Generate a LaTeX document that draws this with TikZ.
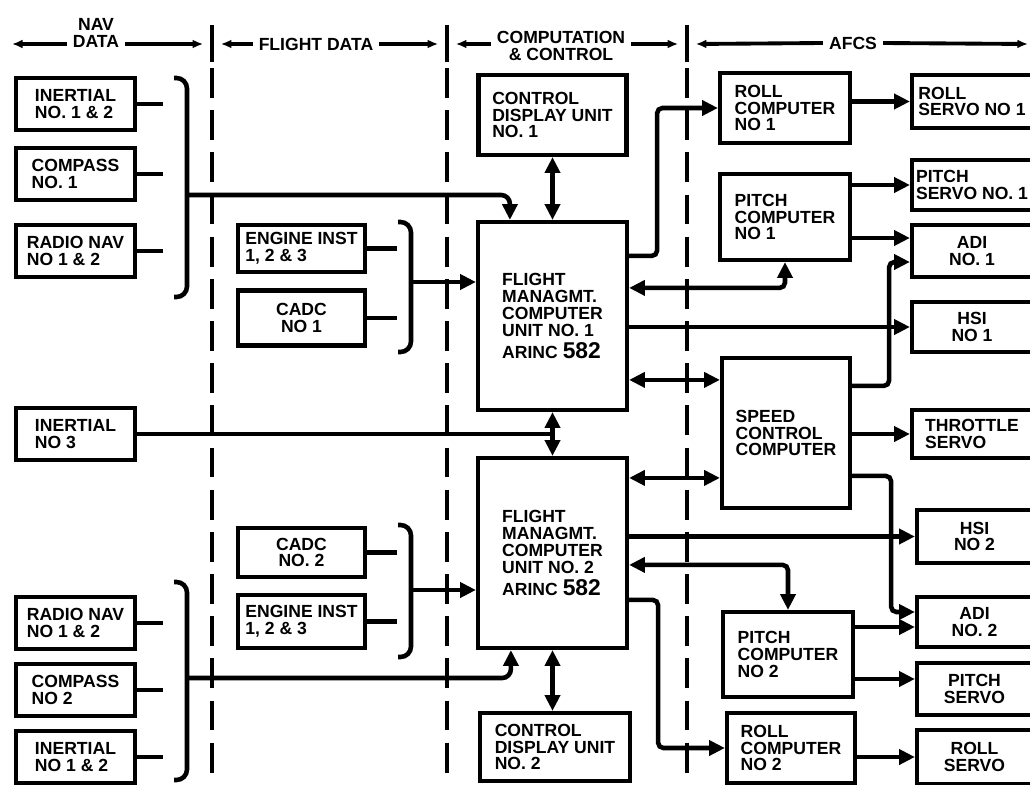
\documentclass[tikz,border=0pt]{standalone}
\usepackage{fontspec}
\setmainfont{Liberation Sans}
\usepackage{tikz}
\usetikzlibrary{arrows.meta,calc}

\begin{document}
\begin{tikzpicture}[
        x=0.02cm, y=-0.02cm,
        every node/.style={font=\fontsize{10}{9.6}\selectfont\bfseries, align=center},
        box/.style={draw, line width=2.4pt, minimum width=2.38cm, minimum height=1.04cm, inner sep=1pt},
        lbox/.style={box, align=left},
        wire/.style={line width=2.6pt},
        arr/.style={wire, -{Triangle[length=9pt,width=8.5pt]}},
        dbl/.style={wire, {Triangle[length=9pt,width=8.5pt]}-{Triangle[length=9pt,width=8.5pt]}},
        hdr/.style={line width=2.2pt, -{Latex[length=6pt,width=5pt]}},
        divider/.style={line width=2.2pt, dash pattern=on 17pt off 7pt},
        brace/.style={line width=2.6pt, rounded corners=6pt}
      ]
      \clip (0,0) rectangle (1030,784);
      \fill[white] (0,0) rectangle (1030,784);

      % column headings
      \node (hnav) at (96,33) {NAV\\DATA};
      \node (hfd) at (316,44) {FLIGHT DATA};
      \node (hcc) at (561,46) {COMPUTATION\\\& CONTROL};
      \node (hafcs) at (853,43) {AFCS};
      \coordinate (t1) at (212,44);
      \coordinate (t2) at (447,44);
      \coordinate (t3) at (687,44);
      \draw[hdr] (hnav.south west |- t1) -- (12,44);
      \draw[hdr] (hnav.south east |- t1) -- ([xshift=-5pt]t1);
      \draw[hdr] (hfd.west) -- ([xshift=5pt]t1);
      \draw[hdr] (hfd.east) -- ([xshift=-5pt]t2);
      \draw[hdr] (hcc.west |- t2) -- ([xshift=5pt]t2);
      \draw[hdr] (hcc.east |- t3) -- ([xshift=-5pt]t3);
      \draw[hdr] (hafcs.west) -- ([xshift=5pt]t3);
      \draw[hdr] (hafcs.east) -- (1028,44);
      \foreach \x in {212,447,687} {
        \draw[line width=2.2pt] (\x,25) -- (\x,62);
        \draw[divider] (\x,68) -- (\x,790);
      }

      % nav data
      \node[lbox] (in12a) at (75.5,104) {INERTIAL\\NO. 1 \& 2};
      \node[lbox] (cmp1) at (75.5,174) {COMPASS\\NO. 1};
      \node[lbox] (rnav1) at (75.5,251) {RADIO NAV\\NO 1 \& 2};
      \node[lbox] (in3) at (75.5,434) {INERTIAL\\NO 3};
      \node[lbox] (rnav2) at (75.5,623) {RADIO NAV\\NO 1 \& 2};
      \node[lbox] (cmp2) at (75.5,690) {COMPASS\\NO 2};
      \node[lbox] (in12b) at (75.5,757) {INERTIAL\\NO 1 \& 2};

      % flight data
      \node[lbox, minimum width=2.54cm, minimum height=0.94cm] (eng1) at (301.5,248.5) {ENGINE INST\\1, 2 \& 3};
      \node[box, minimum width=2.54cm, minimum height=1.1cm] (cadc1) at (301.5,318) {CADC\\NO 1};
      \node[box, minimum width=2.54cm, minimum height=0.98cm] (cadc2) at (301.5,552.5) {CADC\\NO. 2};
      \node[lbox, minimum width=2.54cm, minimum height=1.06cm] (eng2) at (301.5,621.5) {ENGINE INST\\1, 2 \& 3};

      % computation & control
      \node[lbox, minimum width=2.96cm, minimum height=1.6cm] (cdu1) at (552.5,115) {CONTROL\\DISPLAY UNIT\\NO. 1};
      \node[lbox, minimum width=2.98cm, minimum height=3.76cm] (fmc1) at (552.5,316)
        {FLIGHT\\MANAGMT.\\COMPUTER\\UNIT NO. 1\\[3pt]ARINC {\fontsize{13}{12}\selectfont 582}};
      \node[lbox, minimum width=2.98cm, minimum height=3.8cm] (fmc2) at (552.5,553)
        {FLIGHT\\MANAGMT.\\COMPUTER\\UNIT NO. 2\\[3pt]ARINC {\fontsize{13}{12}\selectfont 582}};
      \node[lbox, minimum width=3cm, minimum height=1.36cm] (cdu2) at (555,747) {CONTROL\\DISPLAY UNIT\\NO. 2};

      % afcs
      \node[lbox, minimum width=2.6cm, minimum height=1.4cm] (rc1) at (785,108) {ROLL\\COMPUTER\\NO 1};
      \node[lbox, minimum width=2.6cm, minimum height=1.72cm] (pc1) at (785,217) {PITCH\\COMPUTER\\NO 1};
      \node[lbox, minimum width=2.56cm, minimum height=3cm] (scc) at (786,433) {SPEED\\CONTROL\\COMPUTER};
      \node[lbox, minimum width=2.6cm, minimum height=1.7cm] (pc2) at (788,654.5) {PITCH\\COMPUTER\\NO 2};
      \node[lbox, minimum width=2.56cm, minimum height=1.4cm] (rc2) at (791,748) {ROLL\\COMPUTER\\NO 2};

      \node[lbox, minimum width=2.4cm, minimum height=1.06cm] (rs1) at (972,101.5) {ROLL\\SERVO NO 1};
      \node[lbox, minimum width=2.4cm, minimum height=1cm] (ps1) at (972,185) {PITCH\\SERVO NO. 1};
      \node[box, minimum width=2.4cm, minimum height=1.04cm] (adi1) at (972,251) {ADI\\NO. 1};
      \node[box, minimum width=2.4cm, minimum height=1cm] (hsi1) at (972,327) {HSI\\NO 1};
      \node[lbox, minimum width=2.4cm, minimum height=0.96cm] (thr) at (972,434) {THROTTLE\\SERVO};
      \node[box, minimum width=2.3cm, minimum height=1.06cm] (hsi2) at (974.5,536.5) {HSI\\NO 2};
      \node[box, minimum width=2.3cm, minimum height=1cm] (adi2) at (974.5,622) {ADI\\NO. 2};
      \node[box, minimum width=2.3cm, minimum height=1.04cm] (psv) at (974.5,689) {PITCH\\SERVO};
      \node[box, minimum width=2.3cm, minimum height=1.08cm] (rsv) at (974.5,757) {ROLL\\SERVO};

      % brackets
      \draw[brace] (174,78) -| (187,297) -- (174,297);
      \draw[brace] (398,222) -| (411,352) -- (398,352);
      \draw[brace] (398,525) -| (411,657) -- (398,657);
      \draw[brace] (174,582) -| (187,780) -- (174,780);
      \coordinate (b1) at (187,195);
      \coordinate (b2) at (411,282);
      \coordinate (b3) at (411,590);
      \coordinate (b4) at (187,678);
      \foreach \n/\e in {in12a/163, cmp1/163, rnav1/163, eng1/397, cadc1/397,
                         cadc2/397, eng2/397, rnav2/163, cmp2/163, in12b/163}
        \draw[wire] (\n.east) -- (\n.east -| \e,0);

      % inputs to the computers
      \draw[arr, rounded corners=5pt] (b1) -| ($(fmc1.north west)+(34,0)$);
      \draw[arr] (b2) -- (b2 -| fmc1.west);
      \draw[arr] (b3) -- (b3 -| fmc2.west);
      \draw[arr, rounded corners=5pt] (b4) -| ($(fmc2.south west)+(35,0)$);
      \coordinate (j3) at (fmc1.south |- in3.east);
      \draw[wire] (in3.east) -- (j3);
      \draw[arr] (j3) -- (fmc1.south);
      \draw[arr] (j3) -- (fmc2.north);
      \draw[dbl] (cdu1.south) -- (fmc1.north);
      \draw[dbl] (fmc2.south) -- (cdu2.north -| fmc2.south);

      % outputs to afcs
      \coordinate (a1u) at ($(adi1.west)+(0,-13)$);
      \coordinate (a1d) at ($(adi1.west)+(0,11)$);
      \coordinate (a2u) at ($(adi2.west)+(0,-10)$);
      \coordinate (a2d) at ($(adi2.west)+(0,5)$);
      \coordinate (pv) at ($(psv.west)+(0,-10)$);
      \coordinate (f1r) at ($(fmc1.north east)+(0,36)$);
      \coordinate (f1p) at ($(fmc1.north east)+(0,68)$);
      \coordinate (f1s) at ($(fmc1.north east)+(0,160)$);
      \coordinate (f2s) at ($(fmc2.north east)+(0,22)$);
      \coordinate (f2p) at ($(fmc2.north east)+(0,109)$);
      \coordinate (f2r) at ($(fmc2.north east)+(0,144)$);
      \coordinate (s1) at ($(scc.north east)+(0,30)$);
      \coordinate (s2) at ($(scc.north east)+(0,120)$);

      \draw[arr, rounded corners=3pt] (f1r) -- ++(28,0) |- (rc1.west);
      \draw[dbl, rounded corners=3pt] (f1p) -| (pc1.south);
      \draw[arr] (hsi1.west -| fmc1.east) -- (hsi1.west);
      \draw[dbl] (f1s) -- (f1s -| scc.west);
      \draw[dbl] (f2s) -- (f2s -| scc.west);
      \draw[arr] (hsi2.west -| fmc2.east) -- (hsi2.west);
      \draw[dbl, rounded corners=3pt] (f2p) -| (pc2.north);
      \draw[arr, rounded corners=3pt] (f2r) -- ++(29,0) |- (rc2.west);

      \draw[arr] (rs1.west -| rc1.east) -- (rs1.west);
      \draw[arr] (ps1.west -| pc1.east) -- (ps1.west);
      \draw[arr] (a1u -| pc1.east) -- (a1u);
      \draw[arr, rounded corners=3pt] (s1) -- ++(37,0) |- (a1d);
      \draw[arr] (thr.west -| scc.east) -- (thr.west);
      \draw[arr, rounded corners=3pt] (s2) -- ++(39,0) |- (a2u);
      \draw[arr] (a2d -| pc2.east) -- (a2d);
      \draw[arr] (pv -| pc2.east) -- (pv);
      \draw[arr] (rsv.west -| rc2.east) -- (rsv.west);
    \end{tikzpicture}
\end{document}
